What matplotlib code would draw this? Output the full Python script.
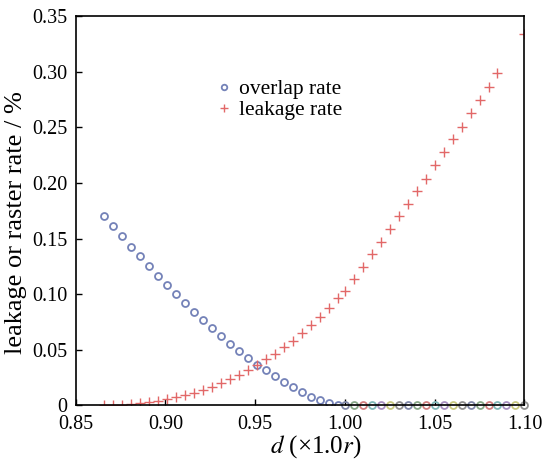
import matplotlib.pyplot as plt
import numpy as np
from matplotlib.ticker import FuncFormatter

plt.rcParams['font.family'] = ['Liberation Serif', 'DejaVu Serif']
plt.rcParams['mathtext.fontset'] = 'stix'

# d (x 1.0 r)
d_values = [0.866, 0.871, 0.876, 0.881, 0.886, 0.891, 0.896, 0.901, 0.906,
            0.911, 0.916, 0.921, 0.926, 0.931, 0.936, 0.941, 0.946, 0.951,
            0.956, 0.961, 0.966, 0.971, 0.976, 0.981, 0.986, 0.991, 0.996,
            1.000, 1.005, 1.010, 1.015, 1.020, 1.025, 1.030, 1.035, 1.040,
            1.045, 1.050, 1.055, 1.060, 1.065, 1.070, 1.075, 1.080, 1.085,
            1.090, 1.095, 1.100]

overlap_rate = [0.1705, 0.1612, 0.1519, 0.1424, 0.1340, 0.1253, 0.1166, 0.1079,
                0.0998, 0.0917, 0.0842, 0.0764, 0.0692, 0.0625, 0.0555, 0.0491,
                0.0430, 0.0365, 0.0315, 0.0261, 0.0209, 0.0162, 0.0117, 0.0077,
                0.0046, 0.0018, 0.0003,
                0, 0, 0, 0, 0, 0, 0, 0, 0, 0, 0, 0, 0, 0, 0, 0, 0, 0, 0, 0, 0]

leakage_rate = [0.0000, 0.0002, 0.0005, 0.0010, 0.0018, 0.0028, 0.0040, 0.0055,
                0.0072, 0.0091, 0.0112, 0.0136, 0.0168, 0.0200, 0.0237, 0.0277,
                0.0317, 0.0362, 0.0416, 0.0461, 0.0522, 0.0581, 0.0647, 0.0719,
                0.0794, 0.0872, 0.0962,
                0.1031, 0.1133, 0.1241, 0.1361, 0.1471, 0.1583, 0.1702, 0.1810,
                0.1925, 0.2040, 0.2161, 0.2275, 0.2395, 0.2505, 0.2626, 0.2745,
                0.2862, 0.2986, np.nan, np.nan, 0.3345]

# colours of the zero points from d = 1.00 on
zero_colors = ['#8088a8', '#88a888', '#d08080', '#80b8b8', '#a890c0', '#c8c880',
               '#909090']

d = np.array(d_values)
ov = np.array(overlap_rate)
lk = np.array(leakage_rate)

fig = plt.figure(figsize=(5.44, 4.59), dpi=100)
ax = fig.add_axes([0.139, 0.117, 0.825, 0.8475])

left = d < 0.9995
ax.plot(d[left], ov[left], 'o', ms=5, mfc='none', mec='#7482b8', mew=1.3,
        label='overlap rate')
ax.plot(d, lk, '+', ms=6.5, color='#e26868', mew=1.0, label='leakage rate')

for i, (x, y) in enumerate(zip(d[~left], ov[~left])):
    ax.plot(x, y, 'o', ms=5, mfc='none', mec=zero_colors[i % len(zero_colors)],
            mew=1.3, clip_on=False)

ax.set_xlim(0.85, 1.10)
ax.set_ylim(0, 0.35)
ax.set_xticks([0.85, 0.90, 0.95, 1.00, 1.05, 1.10])
ax.set_yticks([0, 0.05, 0.10, 0.15, 0.20, 0.25, 0.30, 0.35])
ax.yaxis.set_major_formatter(FuncFormatter(lambda v, p: '0' if v == 0 else '%.2f' % v))
ax.xaxis.set_major_formatter(FuncFormatter(lambda v, p: '%.2f' % v))
ax.tick_params(direction='in', length=4, width=1, labelsize=14.5)
ax.tick_params(axis='x', pad=7)
ax.tick_params(axis='y', pad=6)
for s in ax.spines.values():
    s.set_linewidth(1.2)

ax.set_xlabel(r'$d$ (×1.0$r$)', fontsize=18)
ax.xaxis.set_label_coords(0.534, -0.072)
ax.set_ylabel('leakage or raster rate / %', fontsize=19)
ax.yaxis.set_label_coords(-0.108, 0.47)

ax.legend(loc='upper left', bbox_to_anchor=(0.269, 0.877), frameon=False,
          fontsize=15.5, handletextpad=0.1, labelspacing=0.05, markerscale=0.8,
          handlelength=1.2, borderpad=0.2)

plt.savefig('out.png', dpi=100)
